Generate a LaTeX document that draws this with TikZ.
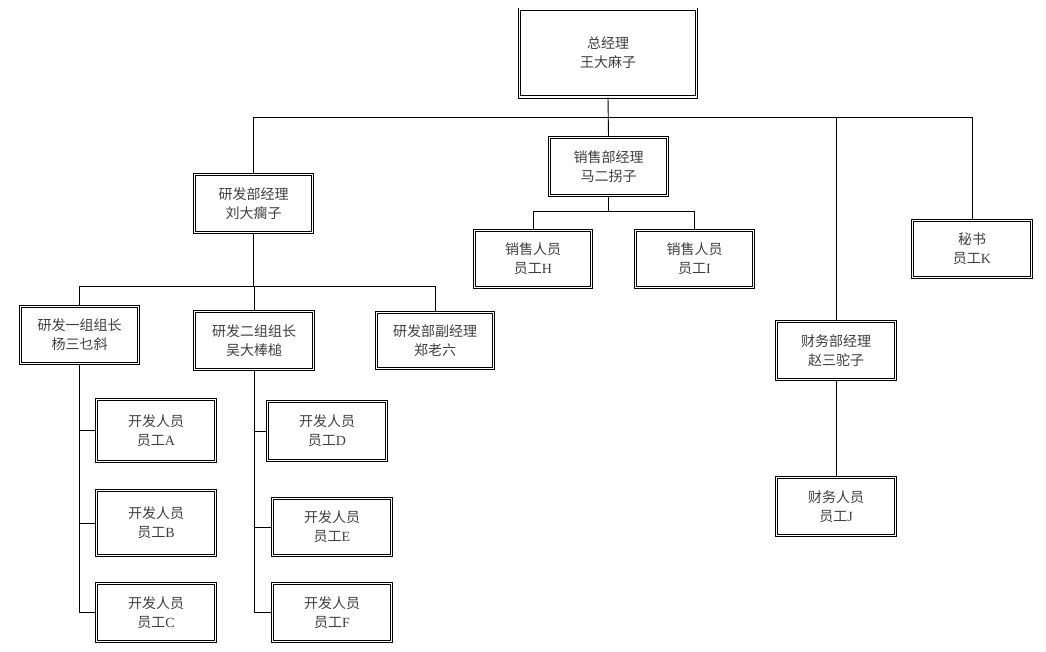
\documentclass[tikz,border=0pt]{standalone}
\usepackage{fontspec}
\setmainfont{Liberation Serif}
\newfontfamily\cjk{Noto Sans CJK SC}
\tikzset{
  box/.style={draw=black, line width=0.8pt, double=white, double distance=1.6pt,
    align=center, inner sep=0pt, text=black!75,
    font=\cjk\fontsize{14}{19}\selectfont},
  conn/.style={draw=black, line width=0.9pt},
}
\newcommand{\bx}[5]{\node[box, minimum width=#4pt-3.2pt, minimum height=#5pt-3.2pt] (#1) at (#2) {#3};}
\begin{document}
\begin{tikzpicture}[x=1pt,y=-1pt]
\useasboundingbox[fill=white] (0,0) rectangle (1046,651);
\bx{ceo}{608,53}{总经理\\王大麻子}{180}{91}
\bx{sales}{608.5,166.5}{销售部经理\\马二拐子}{121}{61}
\bx{rd}{253.5,203.5}{研发部经理\\刘大瘸子}{121}{61}
\bx{sH}{533,259}{销售人员\\员工{\rmfamily H}}{120}{60}
\bx{sI}{694.5,259}{销售人员\\员工{\rmfamily I}}{121}{60}
\bx{sec}{972,249}{秘书\\员工{\rmfamily K}}{122}{60}
\bx{fin}{836,350.5}{财务部经理\\赵三驼子}{122}{61}
\bx{fJ}{836,506.5}{财务人员\\员工{\rmfamily J}}{122}{61}
\bx{g1}{79.5,335}{研发一组组长\\杨三乜斜}{121}{60}
\bx{g2}{254,340.5}{研发二组组长\\吴大棒槌}{122}{61}
\bx{vice}{435,340.5}{研发部副经理\\郑老六}{120}{59}
\bx{cA}{156,430.5}{开发人员\\员工{\rmfamily A}}{122}{65}
\bx{cB}{156,523}{开发人员\\员工{\rmfamily B}}{122}{68}
\bx{cC}{156,612.5}{开发人员\\员工{\rmfamily C}}{122}{61}
\bx{cD}{327,431}{开发人员\\员工{\rmfamily D}}{122}{62}
\bx{cE}{332,527}{开发人员\\员工{\rmfamily E}}{122}{60}
\bx{cF}{332,612.5}{开发人员\\员工{\rmfamily F}}{122}{61}
\coordinate (bus) at (0,117);
\coordinate (sbus) at (0,211);
\coordinate (rbus) at (0,286);
% top level
\draw[conn] (ceo.south) -- (sales.north);
\draw[conn] (rd.north) -- (rd.north |- bus) -- (sec.north |- bus) -- (sec.north);
\draw[conn] (fin.north) -- (fin.north |- bus);
% sales
\draw[conn] (sales.south) -- (sales.south |- sbus);
\draw[conn] (sH.north) -- (sH.north |- sbus) -- (sI.north |- sbus) -- (sI.north);
% R&D
\draw[conn] (rd.south) -- (rd.south |- rbus);
\draw[conn] (g1.north) -- (g1.north |- rbus) -- (vice.north |- rbus) -- (vice.north);
\draw[conn] (g2.north) -- (g2.north |- rbus);
% group 1
\draw[conn] (g1.south) |- (cC.west);
\draw[conn] (g1.south |- cA.west) -- (cA.west);
\draw[conn] (g1.south |- cB.west) -- (cB.west);
% group 2
\draw[conn] (g2.south) |- (cF.west);
\draw[conn] (g2.south |- cD.west) -- (cD.west);
\draw[conn] (g2.south |- cE.west) -- (cE.west);
% finance
\draw[conn] (fin.south) -- (fJ.north);
\end{tikzpicture}
\end{document}
